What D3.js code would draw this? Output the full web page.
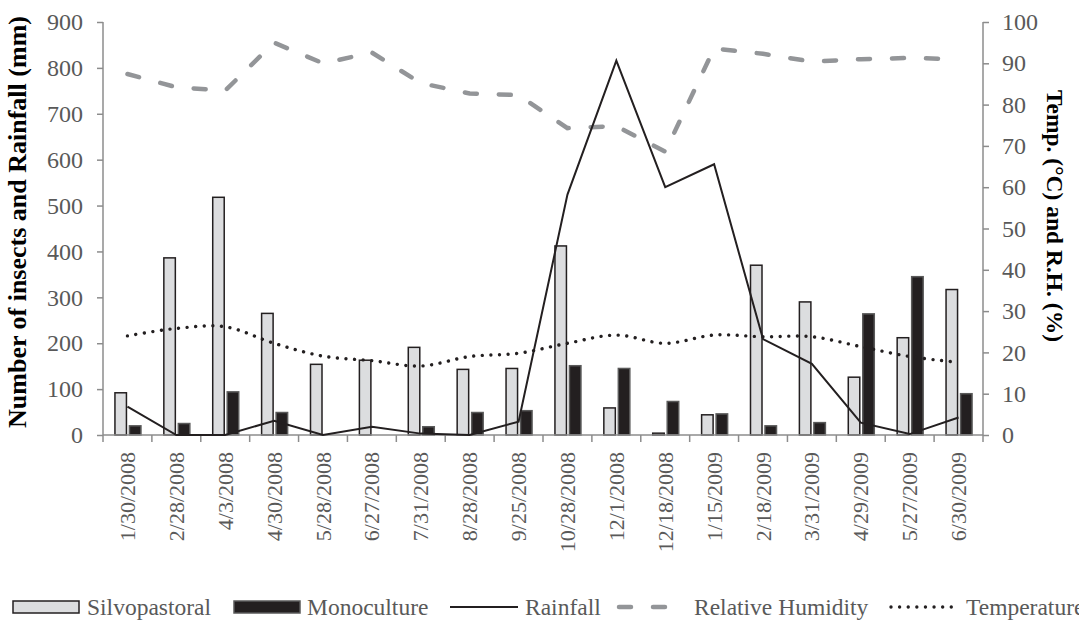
<!DOCTYPE html>
<html>
<head>
<meta charset="utf-8">
<script src="https://cdn.jsdelivr.net/npm/d3@7"></script>
<style>
  body { margin: 0; background: #fff; }
  svg text { font-family: "Liberation Serif", Tinos, "Times New Roman", "DejaVu Serif", serif; }
</style>
</head>
<body>
<div id="chart"></div>
<script>
// Sampling dates (x categories)
const dates = ["1/30/2008", "2/28/2008", "4/3/2008", "4/30/2008", "5/28/2008", "6/27/2008",
               "7/31/2008", "8/28/2008", "9/25/2008", "10/28/2008", "12/1/2008", "12/18/2008",
               "1/15/2009", "2/18/2009", "3/31/2009", "4/29/2009", "5/27/2009", "6/30/2009"];

// Insect counts (left axis)
const silvopastoral = [92, 386, 518, 265, 154, 163, 191, 143, 145, 412, 59, 4, 44, 370, 290, 126, 212, 317];
const monoculture   = [20, 25, 94, 49, 0, 0, 18, 49, 53, 151, 145, 73, 46, 20, 27, 264, 345, 90];

// Rainfall in mm (left axis)
const rainfall = [62, 0, 0, 31, 0, 18, 3, 0, 29, 524, 816, 540, 590, 209, 155, 27, 2, 38];

// Relative humidity % and temperature °C (right axis)
const humidity    = [87.4, 84.2, 83.4, 95.0, 90.0, 92.6, 85.2, 82.7, 82.3, 74.3, 74.8, 68.6, 93.6, 92.3, 90.4, 91.0, 91.3, 91.0];
const temperature = [24.0, 25.8, 26.2, 22.2, 19.1, 18.0, 16.7, 19.0, 19.8, 22.2, 24.2, 22.2, 24.2, 23.8, 23.8, 21.4, 19.0, 17.6];

const leftTicks  = [0, 100, 200, 300, 400, 500, 600, 700, 800, 900];
const rightTicks = [0, 10, 20, 30, 40, 50, 60, 70, 80, 90, 100];

const width = 1079, height = 628;
const plot = { left: 103, right: 983, top: 22, bottom: 435 };

const axisColor = "#8c8c8c";
const labelColor = "#595959";

const svg = d3.select("#chart").append("svg")
  .attr("width", width)
  .attr("height", height);

// Scales
const x = d3.scaleBand().domain(dates).range([plot.left, plot.right]).padding(0);
const yLeft = d3.scaleLinear().domain([0, 900]).range([plot.bottom, plot.top]);
const yRight = d3.scaleLinear().domain([0, 100]).range([plot.bottom, plot.top]);
const cx = d => x(d) + x.bandwidth() / 2;

const barW = 11.5;

// Bars
svg.append("g")
  .selectAll("rect")
  .data(dates)
  .join("rect")
  .attr("x", (d) => cx(d) - 12.5)
  .attr("y", (d, i) => yLeft(silvopastoral[i]))
  .attr("width", barW)
  .attr("height", (d, i) => plot.bottom - yLeft(silvopastoral[i]))
  .attr("fill", "#dcdddf")
  .attr("stroke", "#231f20")
  .attr("stroke-width", 1.5);

svg.append("g")
  .selectAll("rect")
  .data(dates)
  .join("rect")
  .attr("x", (d) => cx(d) + 2)
  .attr("y", (d, i) => yLeft(monoculture[i]))
  .attr("width", barW)
  .attr("height", (d, i) => plot.bottom - yLeft(monoculture[i]))
  .attr("fill", "#231f20")
  .attr("stroke", "#5a5a5a")
  .attr("stroke-width", 1.5)
  .attr("display", (d, i) => monoculture[i] > 0 ? null : "none");

// Axes
const xAxis = svg.append("g")
  .attr("transform", `translate(0,${plot.bottom})`);
xAxis.append("line")
  .attr("x1", plot.left).attr("x2", plot.right)
  .attr("stroke", axisColor).attr("stroke-width", 1.5);
xAxis.selectAll(".tk")
  .data(dates.slice(1))
  .join("line")
  .attr("x1", d => x(d)).attr("x2", d => x(d))
  .attr("y1", 0).attr("y2", 7)
  .attr("stroke", axisColor).attr("stroke-width", 1.5);
xAxis.selectAll("text")
  .data(dates)
  .join("text")
  .attr("transform", d => `translate(${cx(d) + 7.5},17) rotate(-90)`)
  .attr("text-anchor", "end")
  .attr("font-size", 22)
  .attr("fill", labelColor)
  .text(d => d);

const leftAxis = svg.append("g")
  .attr("transform", `translate(${plot.left},0)`)
  .call(d3.axisLeft(yLeft).tickValues(leftTicks).tickSize(6).tickPadding(14));
leftAxis.attr("font-family", null);
leftAxis.select(".domain").attr("stroke", axisColor).attr("stroke-width", 1.5)
  .attr("d", `M0,${plot.top}V${plot.bottom + 7}`);
leftAxis.selectAll(".tick line").attr("stroke", axisColor).attr("stroke-width", 1.5);
leftAxis.selectAll(".tick text")
  .attr("font-size", 24)
  .attr("fill", labelColor);

const rightAxis = svg.append("g")
  .attr("transform", `translate(${plot.right},0)`)
  .call(d3.axisRight(yRight).tickValues(rightTicks).tickSize(6).tickPadding(13));
rightAxis.attr("font-family", null);
rightAxis.select(".domain").attr("stroke", axisColor).attr("stroke-width", 1.5)
  .attr("d", `M0,${plot.top}V${plot.bottom + 7}`);
rightAxis.selectAll(".tick line").attr("stroke", axisColor).attr("stroke-width", 1.5);
rightAxis.selectAll(".tick text")
  .attr("font-size", 24)
  .attr("fill", labelColor);

// Axis titles
svg.append("text")
  .attr("transform", "translate(26,222) rotate(-90)")
  .attr("text-anchor", "middle")
  .attr("font-size", 26)
  .attr("font-weight", "bold")
  .attr("fill", "#000")
  .text("Number of insects and Rainfall (mm)");

svg.append("text")
  .attr("transform", "translate(1047,216) rotate(90)")
  .attr("text-anchor", "middle")
  .attr("font-size", 23.5)
  .attr("font-weight", "bold")
  .attr("fill", "#000")
  .text("Temp. (°C) and R.H. (%)");

// Lines
const rainLine = d3.line()
  .x((d, i) => cx(dates[i]))
  .y(d => yLeft(d));
const rightLine = d3.line()
  .x((d, i) => cx(dates[i]))
  .y(d => yRight(d));

svg.append("path")
  .datum(humidity)
  .attr("d", rightLine)
  .attr("fill", "none")
  .attr("stroke", "#939598")
  .attr("stroke-width", 4.5)
  .attr("stroke-linecap", "round")
  .attr("stroke-dasharray", "12,22");

svg.append("path")
  .datum(temperature)
  .attr("d", rightLine.curve(d3.curveCatmullRom.alpha(0)))
  .attr("fill", "none")
  .attr("stroke", "#231f20")
  .attr("stroke-width", 3.4)
  .attr("stroke-linecap", "round")
  .attr("stroke-dasharray", "0.01,8.6");

svg.append("path")
  .datum(rainfall)
  .attr("d", rainLine)
  .attr("fill", "none")
  .attr("stroke", "#231f20")
  .attr("stroke-width", 2);

// Legend
const legendY = 607;
const legend = svg.append("g");
const items = [
  { name: "Silvopastoral", type: "bar", fill: "#dcdddf", stroke: "#231f20", x: 13, tx: 87 },
  { name: "Monoculture", type: "bar", fill: "#231f20", stroke: "#5a5a5a", x: 234, tx: 307 },
  { name: "Rainfall", type: "line", stroke: "#231f20", w: 2, dash: null, cap: "butt", x: 450, tx: 525 },
  { name: "Relative Humidity", type: "line", stroke: "#939598", w: 4.5, dash: "12,22", cap: "round", x: 619, tx: 694 },
  { name: "Temperature", type: "line", stroke: "#231f20", w: 3.4, dash: "0.01,8.6", cap: "round", x: 891, tx: 966 }
];

items.forEach(it => {
  if (it.type === "bar") {
    legend.append("rect")
      .attr("x", it.x).attr("y", legendY - 6)
      .attr("width", 66).attr("height", 12)
      .attr("fill", it.fill).attr("stroke", it.stroke).attr("stroke-width", 1.5);
  } else {
    legend.append("line")
      .attr("x1", it.x).attr("x2", it.x + 68)
      .attr("y1", legendY).attr("y2", legendY)
      .attr("stroke", it.stroke).attr("stroke-width", it.w)
      .attr("stroke-linecap", it.cap)
      .attr("stroke-dasharray", it.dash);
  }
  legend.append("text")
    .attr("x", it.tx).attr("y", legendY + 8)
    .attr("font-size", 23.5)
    .attr("fill", labelColor)
    .text(it.name);
});
</script>
</body>
</html>
